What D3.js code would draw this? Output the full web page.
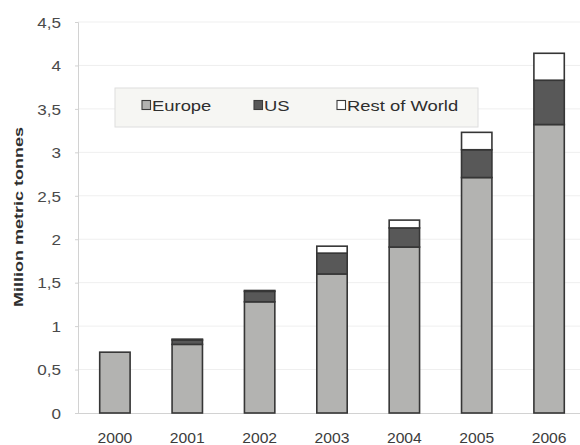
<!DOCTYPE html>
<html>
<head>
<meta charset="utf-8">
<script src="https://cdn.jsdelivr.net/npm/d3@7"></script>
<style>
  html, body { margin: 0; padding: 0; background: #fff; }
  svg { display: block; font-family: "Liberation Sans", Arial, sans-serif; }
</style>
</head>
<body>
<svg id="chart" width="580" height="445"></svg>
<script>
// Biodiesel production by region, million metric tonnes
const years = ["2000", "2001", "2002", "2003", "2004", "2005", "2006"];
const europe = [0.70, 0.79, 1.28, 1.60, 1.91, 2.71, 3.32];
const us = [0.00, 0.05, 0.12, 0.24, 0.22, 0.32, 0.51];
const restOfWorld = [0.00, 0.01, 0.01, 0.08, 0.09, 0.20, 0.31];
const seriesNames = ["Europe", "US", "Rest of World"];
const yTicks = [0, 0.5, 1, 1.5, 2, 2.5, 3, 3.5, 4, 4.5];

const colors = { "Europe": "#b3b3b1", "US": "#585858", "Rest of World": "#ffffff" };

const svg = d3.select("#chart");
const x0 = 78, x1 = 586, yTop = 22, yBottom = 413;

// Widen a text element horizontally about its anchor point
function widen(sel, k) {
  sel.each(function () {
    const t = d3.select(this);
    const tx = +t.attr("x") || 0, ty = +t.attr("y") || 0;
    t.attr("x", 0).attr("y", 0)
      .attr("transform", `translate(${tx},${ty}) scale(${k},1)`);
  });
}

const x = d3.scaleBand().domain(years).range([x0, x1]).paddingInner(0.58).paddingOuter(0.3);
const y = d3.scaleLinear().domain([0, 4.5]).range([yBottom, yTop]);

const table = years.map((yr, i) => ({
  year: yr, "Europe": europe[i], "US": us[i], "Rest of World": restOfWorld[i]
}));
const stacked = d3.stack().keys(seriesNames)(table);

// Faint horizontal gridlines
svg.append("g")
  .selectAll("line")
  .data(yTicks.filter(t => t > 0))
  .join("line")
  .attr("x1", x0).attr("x2", 580)
  .attr("y1", d => y(d)).attr("y2", d => y(d))
  .attr("stroke", "#efefef").attr("stroke-width", 1);

// Y axis
const yAxis = svg.append("g")
  .attr("transform", `translate(${x0},0)`)
  .call(d3.axisLeft(y).tickValues(yTicks).tickSize(3).tickPadding(14)
    .tickFormat(d => d3.format("")(d).replace(".", ",")));
yAxis.select(".domain").attr("stroke", "#d2d2d2");
yAxis.selectAll(".tick line").attr("stroke", "#d2d2d2");
yAxis.selectAll("text")
  .attr("font-size", 14.5).attr("fill", "#4a4a4a").attr("dy", "0.36em")
  .call(widen, 1.18);

// X axis
const xAxis = svg.append("g")
  .attr("transform", `translate(0,${yBottom})`)
  .call(d3.axisBottom(x).tickSize(0).tickPadding(30));
xAxis.select(".domain").attr("stroke", "#d2d2d2").attr("d", `M${x0},0.5H580`);
xAxis.selectAll("text")
  .attr("font-size", 14.5).attr("fill", "#3c3c3c").attr("dy", 0)
  .call(widen, 1.08);

// Y axis title
svg.append("text")
  .attr("transform", `translate(23,217) rotate(-90)`)
  .attr("text-anchor", "middle")
  .attr("font-size", 13.5).attr("font-weight", "bold").attr("fill", "#2e2e2e")
  .attr("textLength", 180).attr("lengthAdjust", "spacingAndGlyphs")
  .text("Million metric tonnes");

// Stacked bars
svg.append("g")
  .selectAll("g")
  .data(stacked)
  .join("g")
  .attr("fill", d => colors[d.key])
  .selectAll("rect")
  .data(d => d.filter(p => p[1] - p[0] > 0))
  .join("rect")
  .attr("x", d => x(d.data.year))
  .attr("width", x.bandwidth())
  .attr("y", d => y(d[1]))
  .attr("height", d => y(d[0]) - y(d[1]))
  .attr("stroke", "#363636").attr("stroke-width", 1.6);

// Legend
const legend = svg.append("g");
legend.append("rect")
  .attr("x", 115).attr("y", 88).attr("width", 363).attr("height", 39)
  .attr("fill", "#f6f6f3").attr("stroke", "#dedede");
const legendX = [142, 254, 337];
seriesNames.forEach((name, i) => {
  legend.append("rect")
    .attr("x", legendX[i]).attr("y", 100.5).attr("width", 8.5).attr("height", 9)
    .attr("fill", colors[name]).attr("stroke", "#3c3c3c").attr("stroke-width", 1.1);
  legend.append("text")
    .attr("x", legendX[i] + 10).attr("y", 110.5)
    .attr("font-size", 14.5).attr("fill", "#2e2e2e")
    .text(name)
    .call(widen, 1.27);
});
</script>
</body>
</html>
